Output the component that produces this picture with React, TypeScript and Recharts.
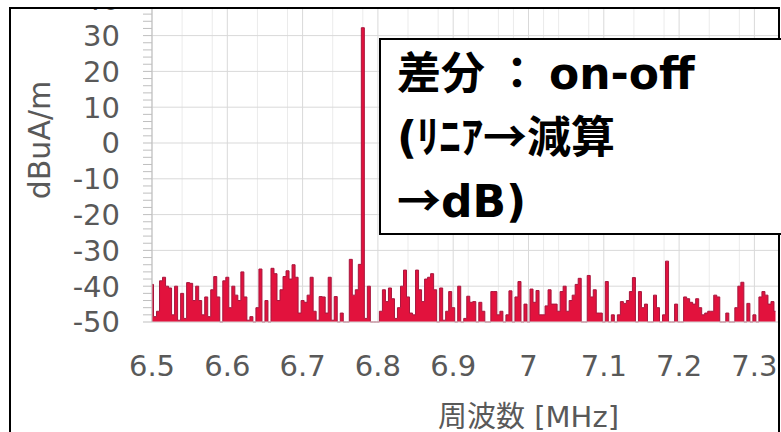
import React from "react";
import { AreaChart, Area, XAxis, YAxis, CartesianGrid } from "recharts";

// spectrum sample grid (MHz)
const F_START = 6.5;
const F_STEP = 0.004;

// difference spectrum on-off, dBuA/m in 4 pieces
const seg1 = [
  -39.5, -48.5, -47, -38.5, -37.5, -40, -40.5, -48, -40, -49.5,
  -42, -49, -39, -39.2, -44, -40, -44, -48, -43, -48.5,
  -41, -37.3, -43, -50, -38.5, -37.5, -46, -40, -42.5, -44,
  -36, -43, -49.5, -48.5, -50, -46, -35.2, -50, -44, -50,
  -35, -36.5, -44, -41, -37.3, -35.7, -38, -34, -37.5, -47.5,
  -44,
];
const seg2 = [
  -44.5, -42.5, -37.5, -47, -49.5, -42.9, -43, -47.5, -37.5, -49.5,
  -42.9, -50, -47.5, -50, -50, -32.5, -42.5, -41, -33.9, 32.2,
  -49, -40, -50, -50, -50, -47, -41, -44.3, -40.5, -43.5,
  -49, -46, -40, -35.5, -43, -47.5, -48, -35.5, -41, -44.3,
  -38, -37.5, -36.5, -41, -50, -40.5, -49.5, -47, -41.5, -46,
  -50, -40,
];
const seg3 = [
  -50, -49, -42.8, -44.5, -44.3, -50, -44.5, -47, -50, -50,
  -41.5, -41.5, -48, -47, -50, -48, -41.3, -50, -43, -38.7,
  -50, -45, -50, -40.8, -44.5, -41.2, -48, -48, -45.5, -41,
  -45, -45, -47, -41.5, -40, -47, -44, -42.5, -39.5, -37.8,
  -50, -50, -37, -43, -41, -47.5, -47.5, -50, -38.7, -50,
  -48, -50,
];
const seg4 = [
  -48, -44.3, -44.8, -44, -41.5, -37.6, -50, -41.5, -46, -45,
  -50, -50, -42.5, -46, -50, -48, -33, -50, -50, -45,
  -50, -50, -43, -43.5, -44.5, -45, -43.5, -46, -48, -47.5,
  -47, -47, -42.5, -43, -50, -50, -47.5, -50, -50, -46,
  -40, -38.9, -50, -44.8, -50, -48, -50, -43, -41.5, -42.5,
  -45, -44.3, -47,
];

const xTicks = [6.5, 6.6, 6.7, 6.8, 6.9, 7.0, 7.1, 7.2, 7.3, 7.4, 7.5];
const xMinor = [
  6.52, 6.54, 6.56, 6.58, 6.62, 6.64, 6.66, 6.68, 6.72, 6.74, 6.76, 6.78,
  6.82, 6.84, 6.86, 6.88, 6.92, 6.94, 6.96, 6.98, 7.02, 7.04, 7.06, 7.08,
  7.12, 7.14, 7.16, 7.18, 7.22, 7.24, 7.26, 7.28, 7.32, 7.34, 7.36, 7.38,
];
const yMajor = [-50, -40, -30, -20, -10, 0, 10, 20, 30, 40, 50];
const yTicks: number[] = [];
for (let v = -50; v <= 50; v += 2) yTicks.push(v);

const data = [...seg1, ...seg2, ...seg3, ...seg4].map((v, i) => ({
  f: +(F_START + i * F_STEP).toFixed(3),
  v,
}));

const GREY = "#595959";
const FONT = "'DejaVu Sans', 'Noto Sans CJK JP', sans-serif";

const YTick = (props: any) => {
  const { x, y, payload } = props;
  if (payload.value % 10 !== 0) return <g />;
  return (
    <text x={x} y={y} dy="0.36em" textAnchor="end" fill={GREY} fontSize={29} fontFamily={FONT}>
      {payload.value}
    </text>
  );
};

const fmtX = (v: number) => String(Number(v.toFixed(1)));

export default function App() {
  return (
    <div style={{ position: "absolute", left: 0, top: 0, width: 781, height: 432, overflow: "hidden", background: "#fff" }}>
      <div
        style={{
          position: "absolute",
          left: 9,
          top: 7,
          width: 771,
          height: 440,
          boxSizing: "border-box",
          borderLeft: "2px solid #000",
          borderTop: "2px solid #000",
          borderRight: "2px solid #000",
          overflow: "hidden",
        }}
      >
        <div style={{ position: "absolute", left: -11, top: -69 }}>
          <AreaChart width={960} height={492} data={data} margin={{ top: 24, right: 55, left: 0, bottom: 0 }}>
            <CartesianGrid stroke="#ebebeb" horizontal={false} verticalValues={xMinor} />
            <CartesianGrid stroke="#d9d9d9" verticalValues={xTicks} horizontalValues={yMajor} />
            <XAxis
              dataKey="f"
              type="number"
              domain={[6.5, 7.5]}
              ticks={xTicks}
              tickFormatter={fmtX}
              tickLine={false}
              tickSize={0}
              tickMargin={33}
              height={110}
              axisLine={{ stroke: "#d9d9d9" }}
              tick={{ fill: GREY, fontSize: 29, fontFamily: FONT }}
              label={{
                content: (p: any) => {
                  const vb = p.viewBox;
                  return (
                    <text
                      x={vb.x + vb.width / 2}
                      y={vb.y + 95}
                      textAnchor="middle"
                      dominantBaseline="central"
                      fill={GREY}
                      fontSize={29}
                      fontFamily={FONT}
                    >
                      周波数 [MHz]
                    </text>
                  );
                },
              }}
            />
            <YAxis
              type="number"
              domain={[-50, 50]}
              ticks={yTicks}
              interval={0}
              width={152}
              tickSize={9}
              tickMargin={23}
              tick={<YTick />}
              axisLine={{ stroke: "#bfbfbf" }}
              tickLine={{ stroke: "#bfbfbf" }}
              label={{
                content: (p: any) => {
                  const vb = p.viewBox;
                  const cy = vb.y + vb.height / 2 - 3;
                  return (
                    <text
                      x={39}
                      y={cy}
                      textAnchor="middle"
                      dominantBaseline="central"
                      transform={`rotate(-90 39 ${cy})`}
                      fill={GREY}
                      fontSize={30}
                      fontFamily={FONT}
                    >
                      dBuA/m
                    </text>
                  );
                },
              }}
            />
            <Area
              type="step"
              dataKey="v"
              baseValue="dataMin"
              fill="#e2123d"
              fillOpacity={1}
              stroke="#a8163d"
              strokeWidth={1}
              isAnimationActive={false}
            />
          </AreaChart>
        </div>
      </div>
      <div
        style={{
          position: "absolute",
          left: 379,
          top: 38,
          width: 460,
          height: 197,
          boxSizing: "border-box",
          border: "2px solid #000",
          background: "#fff",
          paddingTop: 3,
          paddingLeft: 16,
          fontFamily: FONT,
          fontWeight: "bold",
          fontSize: 44,
          lineHeight: "61px",
          color: "#000",
          whiteSpace: "nowrap",
        }}
      >
        <div>
          差分<span style={{ margin: "0 10px" }}>：</span>on-off
        </div>
        <div>
          (ﾘﾆｱ<span style={{ fontFamily: "'Noto Sans CJK JP'" }}>→</span>減算
        </div>
        <div>
          <span style={{ fontFamily: "'Noto Sans CJK JP'" }}>→</span>dB)
        </div>
      </div>
    </div>
  );
}
